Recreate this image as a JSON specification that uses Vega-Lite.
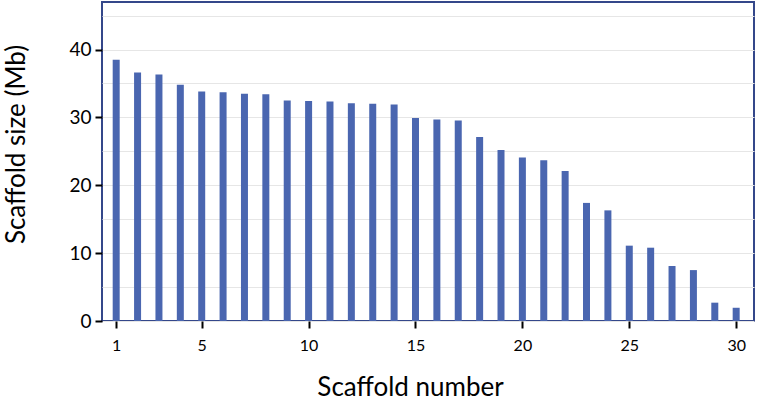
{
  "$schema": "https://vega.github.io/schema/vega-lite/v6.json",
  "width": 652,
  "height": 319,
  "autosize": "none",
  "padding": {"left": 102, "top": 2, "right": 6, "bottom": 80},
  "background": "white",
  "config": {
    "font": "Lato",
    "view": {"stroke": "#34478A", "strokeWidth": 2}
  },
  "data": {
    "values": [
      {"scaffold": 1, "size": 38.5},
      {"scaffold": 2, "size": 36.6},
      {"scaffold": 3, "size": 36.3},
      {"scaffold": 4, "size": 34.8},
      {"scaffold": 5, "size": 33.8},
      {"scaffold": 6, "size": 33.7},
      {"scaffold": 7, "size": 33.5},
      {"scaffold": 8, "size": 33.4},
      {"scaffold": 9, "size": 32.5},
      {"scaffold": 10, "size": 32.4},
      {"scaffold": 11, "size": 32.35},
      {"scaffold": 12, "size": 32.1},
      {"scaffold": 13, "size": 32.0},
      {"scaffold": 14, "size": 31.9},
      {"scaffold": 15, "size": 29.9},
      {"scaffold": 16, "size": 29.7},
      {"scaffold": 17, "size": 29.55},
      {"scaffold": 18, "size": 27.1},
      {"scaffold": 19, "size": 25.2},
      {"scaffold": 20, "size": 24.1},
      {"scaffold": 21, "size": 23.7},
      {"scaffold": 22, "size": 22.1},
      {"scaffold": 23, "size": 17.4},
      {"scaffold": 24, "size": 16.3},
      {"scaffold": 25, "size": 11.1},
      {"scaffold": 26, "size": 10.8},
      {"scaffold": 27, "size": 8.1},
      {"scaffold": 28, "size": 7.5},
      {"scaffold": 29, "size": 2.7},
      {"scaffold": 30, "size": 1.95}
    ]
  },
  "mark": {"type": "bar", "color": "#4A66B0", "size": 7},
  "encoding": {
    "x": {
      "field": "scaffold",
      "type": "quantitative",
      "scale": {"domain": [0.57, 30.6], "nice": false, "zero": false},
      "axis": {
        "values": [1, 5, 10, 15, 20, 25, 30],
        "grid": false,
        "domain": false,
        "tickColor": "black",
        "tickSize": 7,
        "tickWidth": 2,
        "labelFontSize": 16,
        "labelColor": "black",
        "labelPadding": 9,
        "title": "Scaffold number",
        "titleFontSize": 26,
        "titleFontWeight": "normal",
        "titleColor": "black",
        "titleX": 308,
        "titleY": 74,
        "titleBaseline": "alphabetic"
      }
    },
    "y": {
      "field": "size",
      "type": "quantitative",
      "scale": {"domain": [0, 47], "nice": false},
      "axis": {
        "values": [0, 5, 10, 15, 20, 25, 30, 35, 40, 45],
        "labelExpr": "datum.value % 10 === 0 ? datum.label : ''",
        "tickOpacity": {"condition": {"test": "datum.value % 10 === 0", "value": 1}, "value": 0},
        "grid": true,
        "gridColor": "#E6E6E6",
        "gridWidth": 1.2,
        "domain": false,
        "tickColor": "black",
        "tickSize": 7,
        "tickWidth": 2,
        "labelFontSize": 19,
        "labelColor": "black",
        "labelPadding": 4,
        "title": "Scaffold size (Mb)",
        "titleFontSize": 26,
        "titleFontWeight": "normal",
        "titleColor": "black",
        "titleX": -78,
        "titleY": 142,
        "titleAngle": -90,
        "titleAlign": "center",
        "titleBaseline": "alphabetic"
      }
    }
  }
}
